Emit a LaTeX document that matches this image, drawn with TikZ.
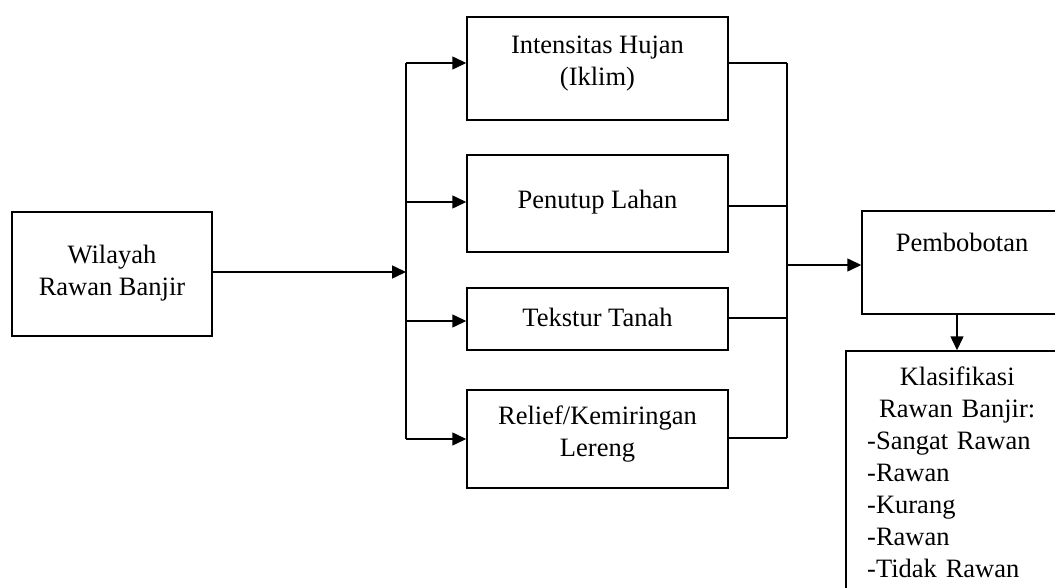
\documentclass[tikz,border=0pt]{standalone}
\usepackage{fontspec}
\setmainfont{Liberation Serif}
\usetikzlibrary{arrows.meta}
\begin{document}
\begin{tikzpicture}[x=1pt,y=-1pt,
  box/.style={draw,line width=1.5pt,rectangle,inner sep=0pt},
  txt/.style={align=center,inner sep=0pt,font=\fontsize{26.5}{32}\selectfont},
  ln/.style={line width=1.5pt},
  arr/.style={line width=1.5pt,-{Triangle[length=14pt,width=13pt]}}]
\useasboundingbox (0,0) rectangle (1055,588);
\clip (0,0) rectangle (1055,588);
% boxes
\node[box,minimum width=200pt,minimum height=124pt] (wil) at (112,274) {};
\node[box,minimum width=261pt,minimum height=103pt] (int) at (597.5,68.5) {};
\node[box,minimum width=261pt,minimum height=97pt] (pen) at (597.5,203.5) {};
\node[box,minimum width=261pt,minimum height=62pt] (tek) at (597.5,319) {};
\node[box,minimum width=261pt,minimum height=98pt] (rel) at (597.5,439) {};
\node[box,minimum width=200pt,minimum height=103pt] (pem) at (962,262.5) {};
\node[box,minimum width=220pt,minimum height=249pt] (kla) at (956,475.5) {};
% texts
\node[txt] (twil) at (112,273) {Wilayah\\Rawan Banjir};
\node[txt] (tint) at (597.5,63.5) {Intensitas Hujan\\(Iklim)};
\node[txt] (tpen) at (597.5,202) {Penutup Lahan};
\node[txt] (ttek) at (597.5,317) {Tekstur Tanah};
\node[txt] (trel) at (597.5,434.5) {Relief/Kemiringan\\Lereng};
\node[txt] (tpem) at (962,242) {Pembobotan};
\node[txt,anchor=north west,text width=180pt,align=left] (tkla) at (867,367)
  {\centering Klasifikasi\\Rawan Banjir:\par\raggedright -Sangat Rawan\\-Rawan\\-Kurang\\-Rawan\\-Tidak Rawan};
% left bus
\coordinate (la) at (406,63);
\coordinate (lb) at (406,202);
\coordinate (lm) at (406,272);
\coordinate (lc) at (406,321);
\coordinate (ld) at (406,439);
\draw[ln] (la) -- (ld);
\draw[arr] (wil.east |- lm) -- (lm);
\draw[arr] (la) -- (la -| int.west);
\draw[arr] (lb) -- (lb -| pen.west);
\draw[arr] (lc) -- (lc -| tek.west);
\draw[arr] (ld) -- (ld -| rel.west);
% right bus
\coordinate (ra) at (787,63);
\coordinate (rb) at (787,206);
\coordinate (rm) at (787,265);
\coordinate (rc) at (787,318);
\coordinate (rd) at (787,438);
\draw[ln] (ra) -- (rd);
\draw[ln] (ra -| int.east) -- (ra);
\draw[ln] (rb -| pen.east) -- (rb);
\draw[ln] (rc -| tek.east) -- (rc);
\draw[ln] (rd -| rel.east) -- (rd);
\draw[arr] (rm) -- (rm -| pem.west);
\coordinate (pd) at (957,0);
\draw[arr] (pd |- pem.south) -- (pd |- kla.north);
\end{tikzpicture}
\end{document}
